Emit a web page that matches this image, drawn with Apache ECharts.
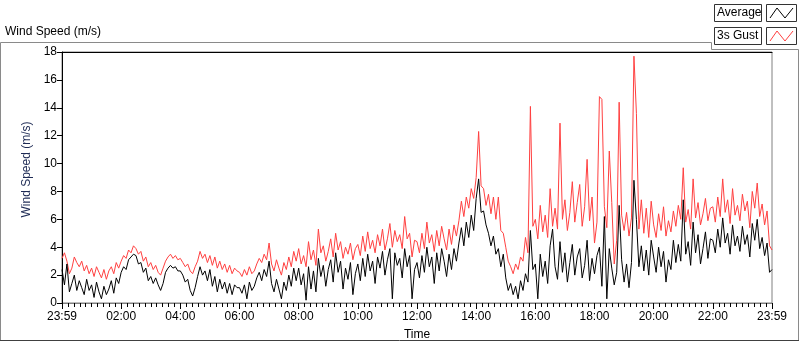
<!DOCTYPE html>
<html>
<head>
<meta charset="utf-8">
<script src="https://cdn.jsdelivr.net/npm/echarts@6/dist/echarts.min.js"></script>
<style>
html, body { margin: 0; padding: 0; background: #fff; }
#chart { width: 800px; height: 342px; }
</style>
</head>
<body>
<div id="chart"></div>
<script>
// one sample every 5 minutes, 23:59 -> 23:59
const stepMinutes = 5
const xTickLabels = ['23:59', '02:00', '04:00', '06:00', '08:00', '10:00', '12:00',
  '14:00', '16:00', '18:00', '20:00', '22:00', '23:59']
const seriesNames = ['Average', '3s Gust']

// 3s gust (m/s), one row per 2 hours
const gust = [
  3.2, 3.6, 3.0, 2.1, 2.5, 3.3, 2.9, 2.6, 3.0, 2.3, 2.7, 2.1, 2.5, 1.9, 2.6, 2.2, 1.8, 2.4, 1.7, 2.3, 2.6, 2.1, 2.9, 2.5,
  3.0, 3.4, 3.2, 3.8, 3.6, 4.1, 3.9, 3.5, 3.7, 3.0, 3.3, 2.6, 2.9, 2.4, 2.7, 2.2, 2.0, 2.5, 3.0, 3.3, 3.5, 3.2, 3.4, 3.1,
  3.2, 2.9, 2.6, 2.8, 2.3, 2.1, 2.6, 3.0, 3.7, 3.2, 3.5, 2.9, 3.4, 2.7, 3.3, 2.5, 3.0, 2.4, 2.8, 2.2, 2.7, 2.1, 2.5, 2.3,
  2.2, 1.9, 2.4, 2.0, 2.6, 2.1, 2.3, 2.8, 3.2, 2.9, 3.5, 3.1, 4.3, 2.8, 2.3, 3.1, 2.5, 2.0, 2.9, 2.4, 3.3, 2.6, 3.7, 3.0,
  3.9, 2.8, 3.4, 2.6, 4.4, 3.1, 3.8, 2.7, 5.3, 3.6, 4.1, 3.0, 3.7, 4.6, 3.3, 5.0, 3.8, 4.4, 3.2, 4.0, 3.5, 4.3, 3.1, 3.9,
  4.2, 3.4, 4.8, 3.7, 5.1, 3.9, 4.5, 3.6, 4.9, 4.1, 5.3, 3.8, 4.6, 5.7, 4.0, 5.2, 4.4, 4.9, 3.9, 6.2, 4.6, 5.0, 3.3, 4.5,
  4.4, 3.6, 5.0, 3.9, 5.8, 4.3, 4.9, 3.7, 5.2, 4.1, 5.5, 4.6, 3.8, 5.3, 4.2, 5.6, 4.8, 5.9, 7.3, 6.2, 7.6, 6.8, 8.2, 7.5,
  9.0, 12.3, 8.4, 8.2, 7.0, 7.8, 6.4, 7.6, 6.0, 7.6, 5.2, 5.0, 4.0, 3.0, 2.6, 2.1, 2.8, 2.4, 3.3, 3.0, 4.7, 3.6, 14.1, 5.5,
  6.0, 4.6, 7.0, 5.1, 6.3, 4.7, 8.2, 5.5, 6.8, 5.3, 12.9, 6.0, 7.4, 5.2, 6.5, 8.7, 5.8, 7.2, 8.5, 5.5, 6.9, 10.3, 5.9, 7.6,
  4.3, 5.8, 14.8, 14.6, 6.9, 5.4, 10.9, 7.2, 2.8, 4.5, 14.4, 6.3, 5.2, 6.5, 4.8, 6.1, 17.7, 13.6, 5.3, 7.4, 5.0, 6.8, 4.7, 7.3,
  5.6, 4.7, 6.4, 5.2, 6.9, 4.8, 5.9, 5.1, 6.6, 5.5, 7.0, 6.0, 9.7, 5.8, 6.7, 5.3, 8.9, 6.1, 7.2, 5.6, 6.4, 7.5, 5.9, 6.8,
  6.9, 5.8, 7.6, 6.2, 8.9, 6.5, 7.4, 5.7, 8.2, 6.3, 7.0, 5.9, 7.8, 6.6, 7.3, 5.4, 8.0, 6.8, 8.6, 6.2, 7.1, 5.6, 6.6, 4.1,
  3.8
]

// average (m/s)
const average = [
  2.4, 1.3, 2.8, 0.8, 1.4, 2.0, 0.9, 1.6, 1.1, 0.6, 1.7, 0.9, 1.3, 0.4, 1.5, 0.8, 0.3, 1.2, 0.6, 1.0, 1.6, 0.7, 1.8, 1.4,
  2.2, 2.6, 2.4, 3.1, 3.3, 3.5, 3.4, 2.8, 2.9, 2.2, 2.5, 1.6, 1.9, 1.4, 1.8, 1.3, 0.9, 1.4, 2.2, 2.5, 2.7, 2.5, 2.6, 2.3,
  2.3, 2.0, 1.5, 1.7, 0.9, 0.5, 1.1, 1.9, 2.6, 2.0, 2.3, 1.6, 2.4, 1.2, 1.9, 0.8, 1.7, 1.0, 1.5, 0.7, 1.4, 0.6, 1.3, 1.1,
  1.1, 0.7, 1.3, 0.3, 1.5, 0.9, 1.2, 1.8, 2.2, 1.6, 2.4, 1.9, 3.0, 1.4, 0.8, 1.7, 1.0, 0.3, 1.5, 0.9, 2.0, 1.2, 2.5, 1.6,
  2.5, 1.3, 2.1, 0.2, 2.6, 1.0, 2.3, 0.8, 3.2, 1.9, 2.7, 1.2, 2.4, 3.1, 1.5, 3.6, 2.2, 3.0, 1.0, 2.5, 1.7, 2.9, 0.6, 2.1,
  2.8, 1.6, 3.2, 1.9, 3.5, 2.3, 3.0, 1.4, 3.3, 2.5, 3.7, 2.0, 3.1, 3.9, 0.3, 3.6, 2.7, 3.2, 1.8, 3.9, 2.6, 3.4, 0.3, 2.4,
  2.9, 1.8, 3.4, 2.2, 4.0, 2.6, 3.3, 1.4, 3.6, 2.3, 3.9, 3.0, 1.9, 3.5, 2.4, 3.9, 3.0, 4.3, 5.4, 4.1, 5.8, 4.7, 6.3, 5.2,
  7.5, 8.9, 6.5, 6.6, 5.6, 5.0, 4.1, 4.8, 3.5, 3.9, 2.6, 3.5, 1.8, 0.9, 1.4, 0.6, 1.2, 0.3, 1.6, 0.9, 2.1, 1.5, 5.2, 2.4,
  2.8, 0.3, 3.5, 1.9, 3.0, 1.4, 4.1, 5.3, 2.6, 1.7, 4.4, 2.2, 3.6, 1.5, 2.9, 4.2, 2.0, 3.3, 3.9, 1.8, 2.7, 4.5, 1.6, 3.2,
  2.1, 3.4, 4.0, 1.2, 6.2, 0.3, 3.9, 2.5, 1.3, 2.2, 7.0, 3.1, 1.5, 2.8, 1.1, 2.9, 8.8, 6.0, 2.6, 4.1, 2.3, 3.8, 2.0, 4.5,
  3.3, 2.2, 4.0, 2.6, 3.7, 1.5, 3.1, 2.4, 4.5, 2.9, 4.2, 3.0, 7.4, 3.5, 4.4, 2.7, 5.8, 3.6, 4.9, 2.8, 3.9, 5.1, 3.2, 4.6,
  4.5, 3.6, 5.3, 4.0, 6.1, 4.3, 5.0, 3.5, 5.6, 4.1, 4.8, 3.7, 5.5, 4.2, 4.9, 3.3, 5.7, 4.5, 6.0, 3.9, 4.7, 3.4, 4.3, 2.2,
  2.4
]

const font = 'Liberation Sans'
const toPairs = (arr) => arr.map((v, i) => [i * stepMinutes, v])

var myChart = echarts.init(document.getElementById('chart'), null, { renderer: 'canvas' })

var option = {
  animation: false,
  backgroundColor: '#fff',
  grid: {
    left: 62, right: 28, top: 52, bottom: 39,
    outerBoundsMode: 'none',
    show: true, borderColor: '#808080', borderWidth: 1
  },
  xAxis: [{
    type: 'value',
    min: 0,
    max: 1440,
    interval: 120,
    name: 'Time',
    nameLocation: 'middle',
    nameGap: 26,
    nameTextStyle: { fontFamily: font, fontSize: 12, color: '#000' },
    axisLine: { show: true, lineStyle: { color: '#808080' } },
    axisTick: { show: true, length: 6, lineStyle: { color: '#000' } },
    minorTick: { show: true, splitNumber: 10, length: 4, lineStyle: { color: '#000' } },
    splitLine: { show: false },
    axisLabel: {
      fontFamily: font, fontSize: 12, color: '#000', margin: 8,
      formatter: (v) => xTickLabels[Math.round(v / 120)]
    }
  }, {
    type: 'value', position: 'top', min: 0, max: 1440,
    axisLine: { show: true, lineStyle: { color: '#000' } },
    axisTick: { show: false }, axisLabel: { show: false }, splitLine: { show: false }
  }],
  yAxis: {
    type: 'value',
    min: 0,
    max: 18,
    interval: 2,
    name: 'Wind Speed (m/s)',
    nameLocation: 'middle',
    nameGap: 26,
    nameTextStyle: { fontFamily: font, fontSize: 12, color: '#1e2b55', padding: [0, 0, 0, 16] },
    axisLine: { show: true, lineStyle: { color: '#000' } },
    axisTick: { show: true, length: 5, lineStyle: { color: '#000' } },
    splitLine: { show: false },
    axisLabel: { fontFamily: font, fontSize: 12, color: '#000', margin: 5 }
  },
  series: [{
    name: seriesNames[1],
    type: 'line',
    data: toPairs(gust),
    showSymbol: false,
    lineStyle: { color: '#ff4040', width: 1 },
    z: 2
  }, {
    name: seriesNames[0],
    type: 'line',
    data: toPairs(average),
    showSymbol: false,
    lineStyle: { color: '#000', width: 1 },
    z: 3
  }],
  graphic: [
    // outer frame
    { type: 'polyline', silent: true,
      shape: { points: [[0.5, 341], [0.5, 42.5], [711.5, 42.5], [711.5, 49.5], [798.5, 49.5], [798.5, 341]] },
      style: { stroke: '#8a8a8a', fill: null, lineWidth: 1 } },
    { type: 'line', silent: true, shape: { x1: 0, y1: 340.5, x2: 799, y2: 340.5 }, style: { stroke: '#404040', lineWidth: 1 } },
    // caption
    { type: 'text', x: 5, y: 32, style: { text: 'Wind Speed (m/s)', font: '12px ' + font, fill: '#000', verticalAlign: 'middle' } },
    // legend
    { type: 'rect', shape: { x: 714.5, y: 4.5, width: 47, height: 17 }, style: { stroke: '#333', fill: '#fff' } },
    { type: 'text', x: 717, y: 13, style: { text: seriesNames[0], font: '12px ' + font, fill: '#000', verticalAlign: 'middle' } },
    { type: 'rect', shape: { x: 766.5, y: 4.5, width: 30, height: 17 }, style: { stroke: '#333', fill: '#fff' } },
    { type: 'polyline', shape: { points: [[770, 18], [777, 8], [785, 18], [793, 8]] }, style: { stroke: '#000', fill: null } },
    { type: 'rect', shape: { x: 714.5, y: 27.5, width: 47, height: 17 }, style: { stroke: '#333', fill: '#fff' } },
    { type: 'text', x: 717, y: 36, style: { text: seriesNames[1], font: '12px ' + font, fill: '#000', verticalAlign: 'middle' } },
    { type: 'rect', shape: { x: 766.5, y: 27.5, width: 30, height: 17 }, style: { stroke: '#333', fill: '#fff' } },
    { type: 'polyline', shape: { points: [[770, 41], [777, 31], [785, 41], [793, 31]] }, style: { stroke: '#ff4040', fill: null } }
  ]
}

myChart.setOption(option)
</script>
</body>
</html>
